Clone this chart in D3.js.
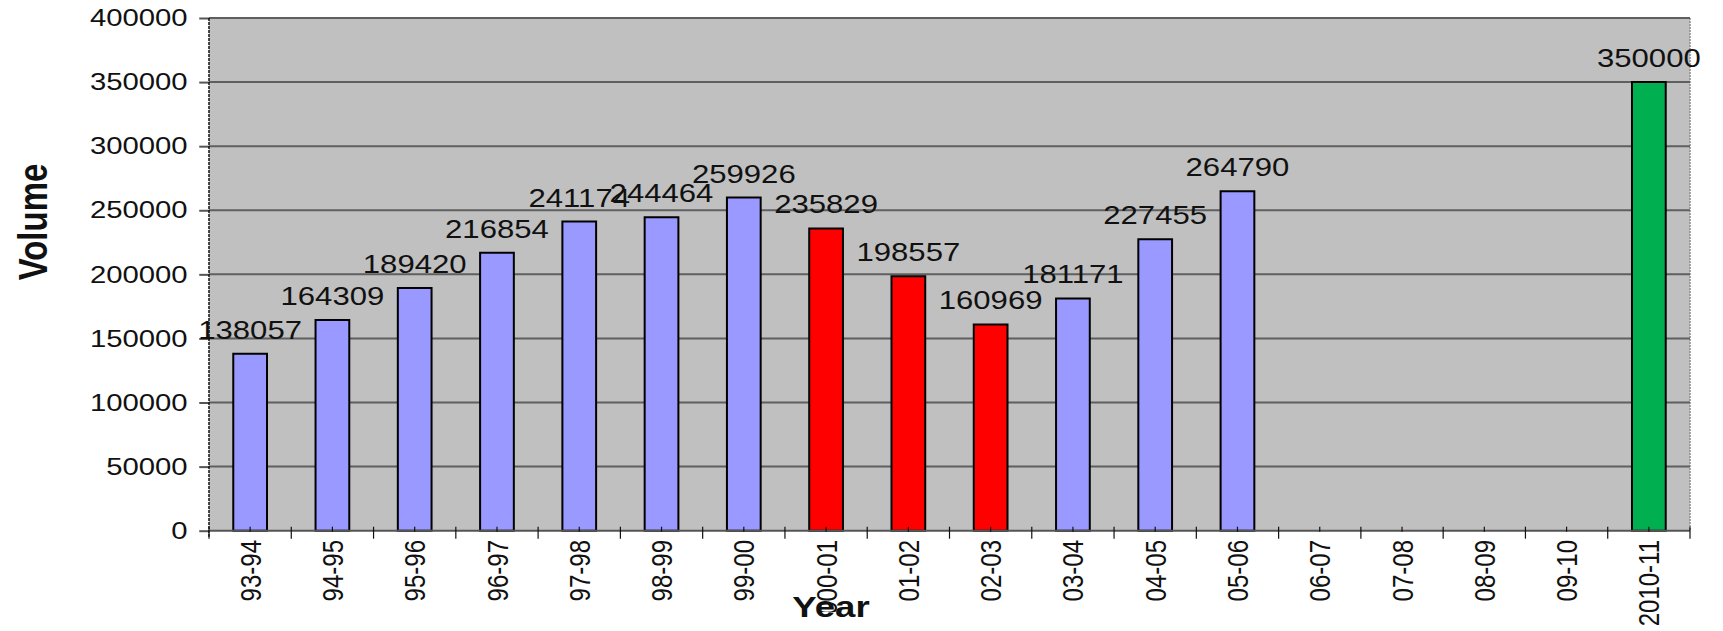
<!DOCTYPE html>
<html>
<head>
<meta charset="utf-8">
<script src="https://cdn.jsdelivr.net/npm/d3@7"></script>
<style>
  html, body { margin: 0; padding: 0; background: #ffffff; }
  svg { display: block; }
  text { font-family: "Liberation Sans", Arial, sans-serif; fill: #111; }
</style>
</head>
<body>
<div id="chart"></div>
<script>
// Annual volume by financial year
const categories = ["93-94","94-95","95-96","96-97","97-98","98-99","99-00","2000-01","01-02","02-03",
                    "03-04","04-05","05-06","06-07","07-08","08-09","09-10","2010-11"];
const volumes = [138057,164309,189420,216854,241174,244464,259926,235829,198557,160969,
                 181171,227455,264790,null,null,null,null,350000];
const status = ["actual","actual","actual","actual","actual","actual","actual","decline","decline","decline",
                "actual","actual","actual","none","none","none","none","target"];
const yTicks = [0,50000,100000,150000,200000,250000,300000,350000,400000];

const statusColor = { actual: "#9999ff", decline: "#ff0000", target: "#00b050", none: "none" };

// The chart is laid out in a horizontally condensed coordinate space and stretched to the page
const pageW = 1723, pageH = 631, sx = 1.22;
const W = pageW / sx;

const plot = { left: 209 / sx, right: 1690 / sx, top: 18, bottom: 530.7 };

const svg = d3.select("#chart").append("svg")
  .attr("width", pageW).attr("height", pageH)
  .attr("viewBox", `0 0 ${W} ${pageH}`)
  .attr("preserveAspectRatio", "none");

const x = d3.scaleBand().domain(categories)
  .range([plot.left, plot.right]).paddingInner(0.59).paddingOuter(0.295);
const y = d3.scaleLinear().domain([0, 400000]).range([plot.bottom, plot.top]);

// plot background
svg.append("rect")
  .attr("x", plot.left).attr("y", plot.top)
  .attr("width", plot.right - plot.left).attr("height", plot.bottom - plot.top)
  .attr("fill", "#c0c0c0");

// right border
svg.append("line")
  .attr("x1", plot.right).attr("x2", plot.right).attr("y1", plot.top).attr("y2", plot.bottom)
  .attr("stroke", "#8a8a8a").attr("stroke-width", 1.5).attr("stroke-dasharray", "2,1")
  .attr("vector-effect", "non-scaling-stroke");

// horizontal gridlines
svg.append("g").selectAll("line").data(yTicks.filter(d => d > 0)).join("line")
  .attr("x1", plot.left).attr("x2", plot.right)
  .attr("y1", d => y(d)).attr("y2", d => y(d))
  .attr("stroke", "#5f5f5f").attr("stroke-width", 2)
  .attr("vector-effect", "non-scaling-stroke");

// y axis
const yAxis = d3.axisLeft(y).tickValues(yTicks).tickSize(8).tickPadding(9.5).tickFormat(d3.format("d"));
const gy = svg.append("g").attr("transform", `translate(${plot.left},0)`).call(yAxis);
gy.select(".domain").remove();
gy.selectAll(".tick line").attr("stroke", "#555").attr("stroke-width", 2)
  .attr("vector-effect", "non-scaling-stroke");
gy.selectAll(".tick text").attr("font-size", 24).attr("fill", "#111")
  .attr("font-family", "\"Liberation Sans\", Arial, sans-serif");
svg.append("line")
  .attr("x1", plot.left).attr("x2", plot.left).attr("y1", plot.top).attr("y2", plot.bottom + 6)
  .attr("stroke", "#111").attr("stroke-width", 1.5).attr("stroke-dasharray", "3,1")
  .attr("vector-effect", "non-scaling-stroke");

// bars
const barData = categories.map((c, i) => ({ c, v: volumes[i], s: status[i] })).filter(d => d.v != null);
svg.append("g").selectAll("rect").data(barData).join("rect")
  .attr("x", d => x(d.c)).attr("width", x.bandwidth())
  .attr("y", d => y(d.v)).attr("height", d => y(0) - y(d.v))
  .attr("fill", d => statusColor[d.s])
  .attr("stroke", "#000").attr("stroke-width", 2)
  .attr("vector-effect", "non-scaling-stroke");

// x axis line
svg.append("line")
  .attr("x1", plot.left).attr("x2", plot.right).attr("y1", plot.bottom).attr("y2", plot.bottom)
  .attr("stroke", "#555").attr("stroke-width", 2)
  .attr("vector-effect", "non-scaling-stroke");

// category ticks: crossing ticks between categories, short inner ticks at centres
const step = x.step();
const boundaries = d3.range(categories.length + 1).map(i => plot.left + i * step);
svg.append("g").selectAll("line").data(boundaries).join("line")
  .attr("x1", d => d).attr("x2", d => d)
  .attr("y1", plot.bottom - 4).attr("y2", plot.bottom + 8)
  .attr("stroke", "#111").attr("stroke-width", 1.2)
  .attr("vector-effect", "non-scaling-stroke");
svg.append("g").selectAll("line").data(categories).join("line")
  .attr("x1", d => x(d) + x.bandwidth() / 2).attr("x2", d => x(d) + x.bandwidth() / 2)
  .attr("y1", plot.bottom - 4).attr("y2", plot.bottom + 1)
  .attr("stroke", "#111").attr("stroke-width", 1.2)
  .attr("vector-effect", "non-scaling-stroke");

// category labels, rotated
svg.append("g").selectAll("text").data(categories).join("text")
  .attr("transform", d => `translate(${x(d) + x.bandwidth() / 2},540) rotate(-90)`)
  .attr("text-anchor", "end").attr("dy", "0.36em")
  .attr("font-size", 24)
  .text(d => d);

// value labels
svg.append("g").selectAll("text").data(barData).join("text")
  .attr("x", d => x(d.c) + x.bandwidth() / 2)
  .attr("y", d => y(d.v) - 15)
  .attr("text-anchor", "middle")
  .attr("font-size", 25.5)
  .text(d => d.v);

// axis titles (the Year title sits on an opaque white box)
svg.append("rect")
  .attr("x", 785 / sx).attr("y", 612).attr("width", 92 / sx).attr("height", 19)
  .attr("fill", "#ffffff");
svg.append("text")
  .attr("x", 831 / sx).attr("y", 617)
  .attr("text-anchor", "middle").attr("font-size", 30).attr("font-weight", "bold")
  .text("Year");
svg.append("text")
  .attr("transform", `translate(${46.5 / sx},222) rotate(-90)`)
  .attr("text-anchor", "middle").attr("font-size", 33).attr("font-weight", "bold")
  .text("Volume");
</script>
</body>
</html>
